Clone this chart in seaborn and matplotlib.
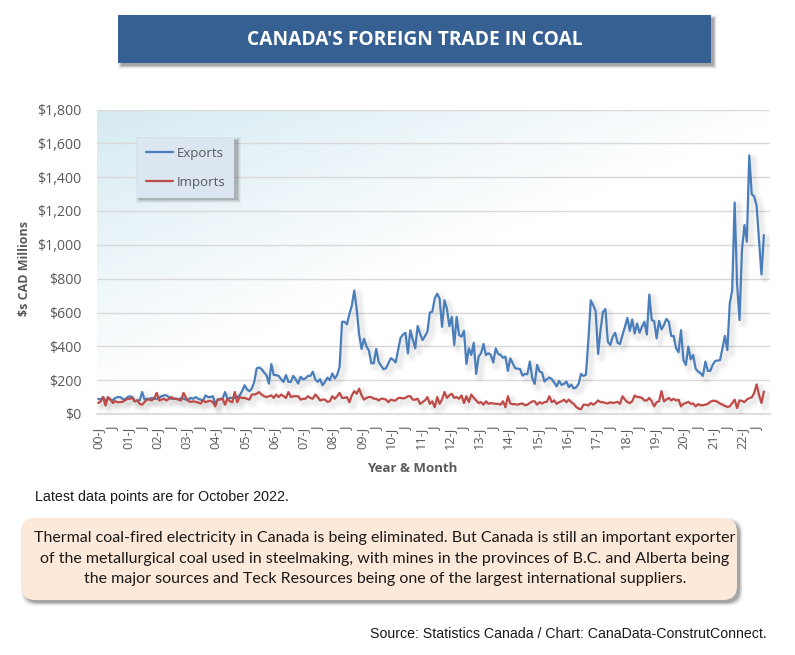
import numpy as np
import pandas as pd
import matplotlib
matplotlib.use("Agg")
import matplotlib.pyplot as plt
import matplotlib.patheffects as pe
from matplotlib.patches import FancyBboxPatch, Rectangle
import seaborn as sns

# monthly values, $ CAD millions
exports_00 = [90, 85, 100, 75, 95, 85, 80, 95, 100, 100, 90, 85]
exports_01 = [100, 105, 100, 75, 80, 80, 130, 85, 90, 90, 95, 90]
exports_02 = [90, 95, 105, 110, 110, 100, 90, 90, 90, 85, 95, 90]
exports_03 = [85, 85, 95, 90, 100, 90, 85, 80, 110, 100, 100, 105]
exports_04 = [60, 85, 90, 90, 130, 90, 95, 95, 95, 100, 110, 135]
exports_05 = [170, 145, 135, 150, 190, 270, 275, 265, 245, 230, 180, 295]
exports_06 = [230, 230, 225, 205, 190, 230, 190, 190, 225, 205, 180, 220]
exports_07 = [205, 210, 225, 225, 250, 205, 190, 205, 170, 190, 215, 200]
exports_08 = [240, 210, 230, 280, 545, 545, 530, 590, 640, 730, 620, 470]
exports_09 = [385, 445, 400, 375, 300, 300, 385, 310, 285, 265, 270, 300]
exports_10 = [330, 320, 305, 380, 450, 470, 480, 358, 495, 440, 388, 520]
exports_11 = [475, 437, 460, 486, 600, 604, 682, 711, 682, 515, 672, 623]
exports_12 = [519, 574, 408, 574, 466, 457, 492, 296, 388, 349, 421, 237]
exports_13 = [339, 359, 414, 349, 359, 349, 304, 388, 355, 349, 333, 339]
exports_14 = [255, 329, 300, 270, 268, 265, 227, 237, 235, 310, 212, 178]
exports_15 = [290, 251, 245, 192, 206, 216, 206, 186, 163, 196, 172, 178]
exports_16 = [192, 159, 174, 151, 157, 178, 237, 225, 232, 430, 672, 643]
exports_17 = [608, 355, 496, 604, 621, 427, 408, 457, 480, 421, 414, 466]
exports_18 = [515, 568, 492, 558, 476, 535, 480, 515, 545, 470, 706, 555]
exports_19 = [549, 447, 551, 500, 525, 562, 545, 461, 461, 388, 365, 496]
exports_20 = [319, 290, 398, 323, 349, 268, 251, 241, 225, 310, 255, 255]
exports_21 = [290, 314, 316, 318, 388, 462, 378, 653, 731, 1250, 770, 555]
exports_22 = [966, 1117, 1019, 1529, 1300, 1286, 1231, 1025, 825, 1058]

imports_00 = [65, 75, 100, 50, 100, 85, 65, 75, 70, 70, 72, 80]
imports_01 = [90, 90, 95, 75, 80, 60, 55, 70, 85, 85, 80, 95]
imports_02 = [125, 80, 85, 90, 80, 90, 100, 90, 90, 85, 80, 125]
imports_03 = [95, 75, 72, 75, 72, 68, 62, 80, 70, 75, 78, 70]
imports_04 = [45, 85, 85, 90, 55, 90, 75, 70, 130, 70, 100, 95]
imports_05 = [95, 90, 85, 115, 115, 120, 130, 115, 105, 100, 105, 110]
imports_06 = [95, 115, 100, 115, 105, 95, 130, 100, 105, 105, 105, 85]
imports_07 = [90, 90, 105, 95, 90, 115, 100, 80, 85, 85, 72, 75]
imports_08 = [105, 90, 105, 125, 95, 95, 100, 70, 110, 135, 120, 150]
imports_09 = [110, 85, 95, 100, 100, 90, 90, 80, 90, 90, 85, 70]
imports_10 = [85, 80, 80, 95, 95, 92, 95, 105, 105, 85, 85, 90]
imports_11 = [60, 70, 80, 100, 60, 75, 40, 100, 60, 85, 130, 95]
imports_12 = [110, 120, 95, 100, 90, 110, 65, 105, 70, 115, 95, 80]
imports_13 = [65, 70, 55, 75, 60, 65, 62, 60, 60, 55, 75, 40]
imports_14 = [105, 62, 58, 58, 55, 60, 62, 52, 55, 65, 75, 75]
imports_15 = [55, 70, 62, 70, 72, 105, 70, 80, 60, 70, 75, 85]
imports_16 = [70, 85, 70, 60, 42, 32, 28, 55, 55, 50, 65, 55]
imports_17 = [65, 80, 70, 70, 65, 62, 70, 65, 68, 72, 60, 105]
imports_18 = [85, 70, 65, 75, 110, 100, 100, 95, 80, 80, 95, 75]
imports_19 = [45, 70, 75, 135, 75, 85, 95, 80, 90, 80, 85, 45]
imports_20 = [60, 65, 72, 60, 62, 45, 58, 52, 52, 55, 60, 72]
imports_21 = [78, 78, 72, 62, 55, 48, 42, 45, 65, 85, 35, 80]
imports_22 = [78, 70, 85, 94, 98, 123, 175, 113, 65, 133]

exports = sum([exports_00, exports_01, exports_02, exports_03, exports_04, exports_05,
               exports_06, exports_07, exports_08, exports_09, exports_10, exports_11,
               exports_12, exports_13, exports_14, exports_15, exports_16, exports_17,
               exports_18, exports_19, exports_20, exports_21, exports_22], [])
imports = sum([imports_00, imports_01, imports_02, imports_03, imports_04, imports_05,
               imports_06, imports_07, imports_08, imports_09, imports_10, imports_11,
               imports_12, imports_13, imports_14, imports_15, imports_16, imports_17,
               imports_18, imports_19, imports_20, imports_21, imports_22], [])

years = [f"{y:02d}" for y in range(23)]
y_ticks = [0, 200, 400, 600, 800, 1000, 1200, 1400, 1600, 1800]

title = "CANADA'S FOREIGN TRADE IN COAL"
note = "Latest data points are for October 2022."
callout = ("Thermal coal-fired electricity in Canada is being eliminated. But Canada is still an important exporter\n"
           "of the metallurgical coal used in steelmaking, with mines in the provinces of B.C. and Alberta being\n"
           "the major sources and Teck Resources being one of the largest international suppliers.")
source = "Source: Statistics Canada / Chart: CanaData-ConstrutConnect."

sns.set_theme(style="white")
plt.rcParams["font.family"] = ["Open Sans", "DejaVu Sans"]

W, H = 795, 655
fig = plt.figure(figsize=(W / 100, H / 100), dpi=100)
ax = fig.add_axes([97 / W, 1 - 414 / H, 673 / W, 304.5 / H])


def fx(x):
    return x / W


def fy(y):
    return 1 - y / H


df = pd.DataFrame({"Month": range(len(exports)), "Exports": exports, "Imports": imports})
long_df = df.melt(id_vars="Month", var_name="Series", value_name="Value")

# plot area wash, pale blue fading to white
gx, gy = np.meshgrid(np.linspace(0, 1, 200), np.linspace(0, 1, 200))
wash = np.clip(1 - (gx * 0.95 + gy * 1.05), 0, 1)[..., None]
img = np.array([0.84, 0.92, 0.95]) * wash + (1 - wash)
ax.imshow(img, extent=(-0.5, 275.5, 0, 1800), origin="upper", aspect="auto", zorder=0)

sns.lineplot(data=long_df, x="Month", y="Value", hue="Series",
             palette={"Exports": "#4A7EBB", "Imports": "#BE4B48"},
             linewidth=1.6, ax=ax, zorder=3)

# soft shadow under the lines
for line in ax.get_lines()[:2]:
    line.set_path_effects([
        pe.SimpleLineShadow(offset=(2.5, -2.5), alpha=0.025, linewidth=8, shadow_color="#444444"),
        pe.SimpleLineShadow(offset=(2.5, -2.5), alpha=0.035, linewidth=5.5, shadow_color="#444444"),
        pe.SimpleLineShadow(offset=(2.5, -2.5), alpha=0.04, linewidth=3, shadow_color="#444444"),
        pe.Normal(),
    ])

ax.set_xlim(-0.5, 275.5)
ax.set_ylim(0, 1800)
ax.set_yticks(y_ticks)
ax.set_yticklabels([f"${v:,}" for v in y_ticks], fontsize=10.2, color="#595959")
ax.set_xticks(range(0, 274, 6))
x_labels = []
for y in years:
    x_labels += [f"{y}-J", "J"]
ax.set_xticklabels(x_labels[:len(ax.get_xticks())], rotation=90, fontsize=9.2, color="#595959")
ax.tick_params(axis="x", length=0, pad=9)
ax.tick_params(axis="y", length=0, pad=11)
ax.grid(axis="y", color="#D9D9D9", linewidth=1)
ax.set_axisbelow(True)
sns.despine(ax=ax, left=True, right=True, top=True, bottom=False)
ax.spines["bottom"].set_color("#D9D9D9")
for gl in ax.get_ygridlines():
    gl.set_zorder(1)

ax.set_xlabel("Year & Month", fontsize=9.5, fontweight="bold", color="#595959")
ax.set_ylabel("$s CAD Millions", fontsize=9, fontweight="bold", color="#595959")
ax.xaxis.set_label_coords(0.468, -0.158)
ax.yaxis.set_label_coords(-0.098, 0.479)

handles, labels = ax.get_legend_handles_labels()
leg = ax.legend(handles, labels, loc="upper left", bbox_to_anchor=(fx(137), fy(138)),
                bbox_transform=fig.transFigure, borderaxespad=0, fontsize=9.5,
                labelspacing=1.25, handlelength=2.1, handletextpad=0.25,
                borderpad=0.65, fancybox=False, frameon=True,
                facecolor="#DCE6F1", edgecolor="none", framealpha=1)
for t in leg.get_texts():
    t.set_color("#595959")
for h in leg.get_lines():
    h.set_linewidth(1.6)
    h.set_path_effects([])

# legend shadow, sits under the legend frame
for grow, a in [(4, 0.06), (3, 0.08), (2, 0.12), (1, 0.16)]:
    ax.add_patch(Rectangle((fx(137 + 3 - grow), fy(196 + 3 + grow)), (97 + 2 * grow) / W, (58 + 2 * grow) / H,
                           transform=fig.transFigure, facecolor="#444444", alpha=a,
                           edgecolor="none", zorder=4, clip_on=False))

# title banner
for grow, a in [(3, 0.06), (2, 0.1), (1, 0.16), (0, 0.25)]:
    fig.add_artist(Rectangle((fx(118 + 3 - grow), fy(63 + 3 + grow)), (593 + 2 * grow) / W, (48 + 2 * grow) / H,
                             transform=fig.transFigure, facecolor="#444444", alpha=a,
                             edgecolor="none", zorder=1))
fig.add_artist(Rectangle((fx(118), fy(63)), 593 / W, 48 / H, transform=fig.transFigure,
                         facecolor="#366092", edgecolor="none", zorder=2))
fig.text(fx(414.5), fy(40), title, color="white", fontsize=13.8, fontweight="bold",
         ha="center", va="center", family=["Open Sans", "DejaVu Sans"], zorder=3)

fig.text(fx(35), fy(497), note, fontsize=10.25, color="#1a1a1a", ha="left", va="center",
         family=["Liberation Sans", "DejaVu Sans"])

# callout box, corners need pixel units
corner = matplotlib.transforms.IdentityTransform()
for grow, a in [(3, 0.06), (2, 0.1), (1, 0.16), (0, 0.25)]:
    fig.add_artist(FancyBboxPatch((21 + 3 - grow, H - 600 - 3 - grow), 716 + 2 * grow, 82 + 2 * grow,
                                  boxstyle="round,pad=0,rounding_size=14",
                                  transform=corner, facecolor="#444444", alpha=a,
                                  edgecolor="none", zorder=1))
fig.add_artist(FancyBboxPatch((21, H - 600), 716, 82, boxstyle="round,pad=0,rounding_size=14",
                              transform=corner, facecolor="#FDE9D9", edgecolor="none", zorder=2))
fig.text(fx(385), fy(558.5), callout, fontsize=11.5, color="#1a1a1a", ha="center", va="center",
         linespacing=1.55, family=["Lato", "DejaVu Sans"], zorder=3)

fig.text(fx(767), fy(634), source, fontsize=10.18, color="#1a1a1a", ha="right", va="center",
         family=["Liberation Sans", "DejaVu Sans"])

fig.savefig("out.png", dpi=100)
